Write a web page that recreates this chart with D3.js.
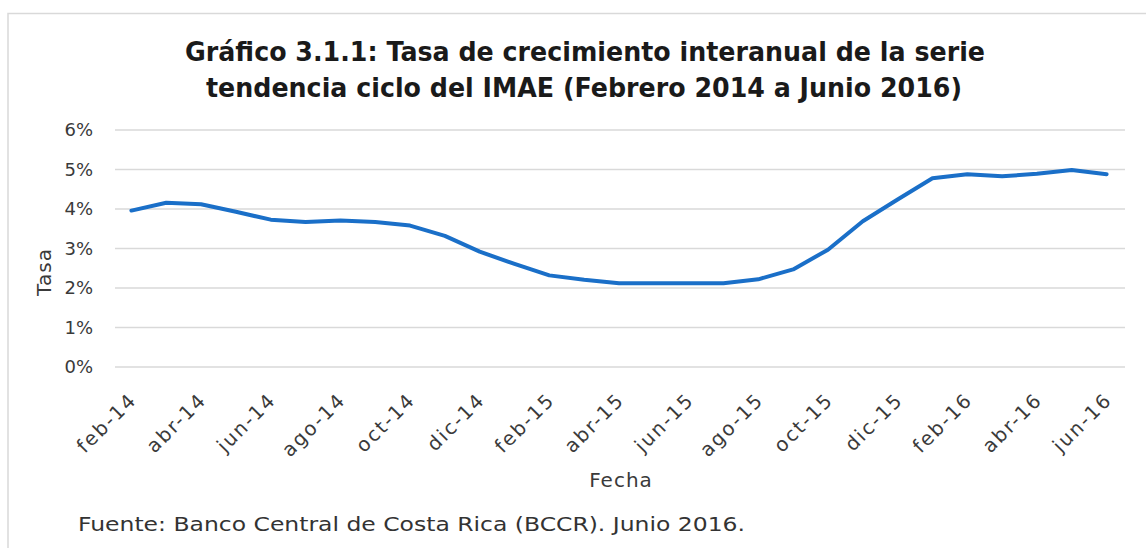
<!DOCTYPE html>
<html>
<head>
<meta charset="utf-8">
<script src="https://cdn.jsdelivr.net/npm/d3@7"></script>
<style>
  body { margin: 0; background: #fff; }
  svg text { font-family: "DejaVu Sans", sans-serif; }
</style>
</head>
<body>
<svg id="chart" width="1146" height="548"></svg>
<script>

// months, feb-14 to jun-16
var meses = ["feb-14","mar-14","abr-14","may-14","jun-14","jul-14","ago-14","sep-14","oct-14","nov-14","dic-14",
  "ene-15","feb-15","mar-15","abr-15","may-15","jun-15","jul-15","ago-15","sep-15","oct-15","nov-15","dic-15",
  "ene-16","feb-16","mar-16","abr-16","may-16","jun-16"];

// interannual growth rate (%)
var tasa = [3.96, 4.16, 4.12, 3.93, 3.73, 3.67, 3.71, 3.67, 3.58, 3.32, 2.92,
  2.61, 2.32, 2.21, 2.12, 2.12, 2.12, 2.12, 2.22, 2.47, 2.97, 3.69, 4.24,
  4.78, 4.88, 4.83, 4.89, 4.99, 4.88];

var yTicks = [0, 1, 2, 3, 4, 5, 6];

var titulo = ["Gráfico 3.1.1: Tasa de crecimiento interanual de la serie",
  "tendencia ciclo del IMAE (Febrero 2014 a Junio 2016)"];
var fuente = "Fuente: Banco Central de Costa Rica (BCCR).  Junio 2016.";

var svg = d3.select("#chart");

// frame (left + top only)
svg.append("path")
  .attr("d", "M8,548 V13.5 H1146")
  .attr("fill", "none")
  .attr("stroke", "#d9d9d9")
  .attr("stroke-width", 1.5);

// scales
var x = d3.scalePoint()
  .domain(meses)
  .range([114, 1124])
  .padding(0.5);

var y = d3.scaleLinear()
  .domain([0, 6])
  .range([367, 130]);

// gridlines
svg.append("g")
  .selectAll("line")
  .data(yTicks)
  .enter()
  .append("line")
  .attr("x1", 115)
  .attr("x2", 1125)
  .attr("y1", function(d) { return y(d); })
  .attr("y2", function(d) { return y(d); })
  .attr("stroke", "#d9d9d9")
  .attr("stroke-width", 1.3);

// y axis labels
var yAxis = d3.axisLeft(y)
  .tickValues(yTicks)
  .tickSize(0)
  .tickPadding(0)
  .tickFormat(function(d) { return d + "%"; });

svg.append("g")
  .attr("transform", "translate(93,0)")
  .call(yAxis)
  .call(function(g) { g.select(".domain").remove(); })
  .selectAll("text")
  .style("font-family", "DejaVu Sans, sans-serif")
  .style("font-size", "18px")
  .attr("fill", "#3a3a3a");

// x axis labels (every 2nd month)
var xAxis = d3.axisBottom(x)
  .tickValues(meses.filter(function(d, i) { return i % 2 == 0; }))
  .tickSize(0)
  .tickPadding(0);

var gx = svg.append("g")
  .attr("transform", "translate(0,367)")
  .call(xAxis);
gx.select(".domain").remove();
gx.selectAll("text")
  .style("font-family", "DejaVu Sans, sans-serif")
  .style("font-size", "19.5px")
  .style("letter-spacing", "2px")
  .attr("fill", "#3a3a3a")
  .attr("text-anchor", "end")
  .attr("dy", null)
  .attr("y", 0)
  .attr("transform", "translate(6,34) rotate(-45)");

// line
var line = d3.line()
  .x(function(d, i) { return x(meses[i]); })
  .y(function(d) { return y(d); });

svg.append("path")
  .datum(tasa)
  .attr("fill", "none")
  .attr("stroke", "#1a6fc8")
  .attr("stroke-width", 4)
  .attr("stroke-linecap", "round")
  .attr("stroke-linejoin", "round")
  .attr("d", line);

// title
svg.append("text")
  .attr("x", 585).attr("y", 61)
  .attr("text-anchor", "middle")
  .attr("textLength", 800)
  .attr("lengthAdjust", "spacingAndGlyphs")
  .style("font-size", "27px")
  .style("font-weight", "bold")
  .attr("fill", "#1a1a1a")
  .text(titulo[0]);

svg.append("text")
  .attr("x", 584).attr("y", 97)
  .attr("text-anchor", "middle")
  .attr("textLength", 756)
  .attr("lengthAdjust", "spacingAndGlyphs")
  .style("font-size", "27px")
  .style("font-weight", "bold")
  .attr("fill", "#1a1a1a")
  .text(titulo[1]);

// axis titles
svg.append("text")
  .attr("transform", "translate(51,272) rotate(-90)")
  .attr("text-anchor", "middle")
  .style("font-size", "20px")
  .style("letter-spacing", "1px")
  .attr("fill", "#3a3a3a")
  .text("Tasa");

svg.append("text")
  .attr("x", 621).attr("y", 487)
  .attr("text-anchor", "middle")
  .style("font-size", "20px")
  .style("letter-spacing", "1px")
  .attr("fill", "#3a3a3a")
  .text("Fecha");

// source note
svg.append("text")
  .attr("x", 78).attr("y", 531)
  .attr("textLength", 667)
  .attr("lengthAdjust", "spacingAndGlyphs")
  .style("font-size", "20px")
  .attr("fill", "#333")
  .text(fuente);

</script>
</body>
</html>
